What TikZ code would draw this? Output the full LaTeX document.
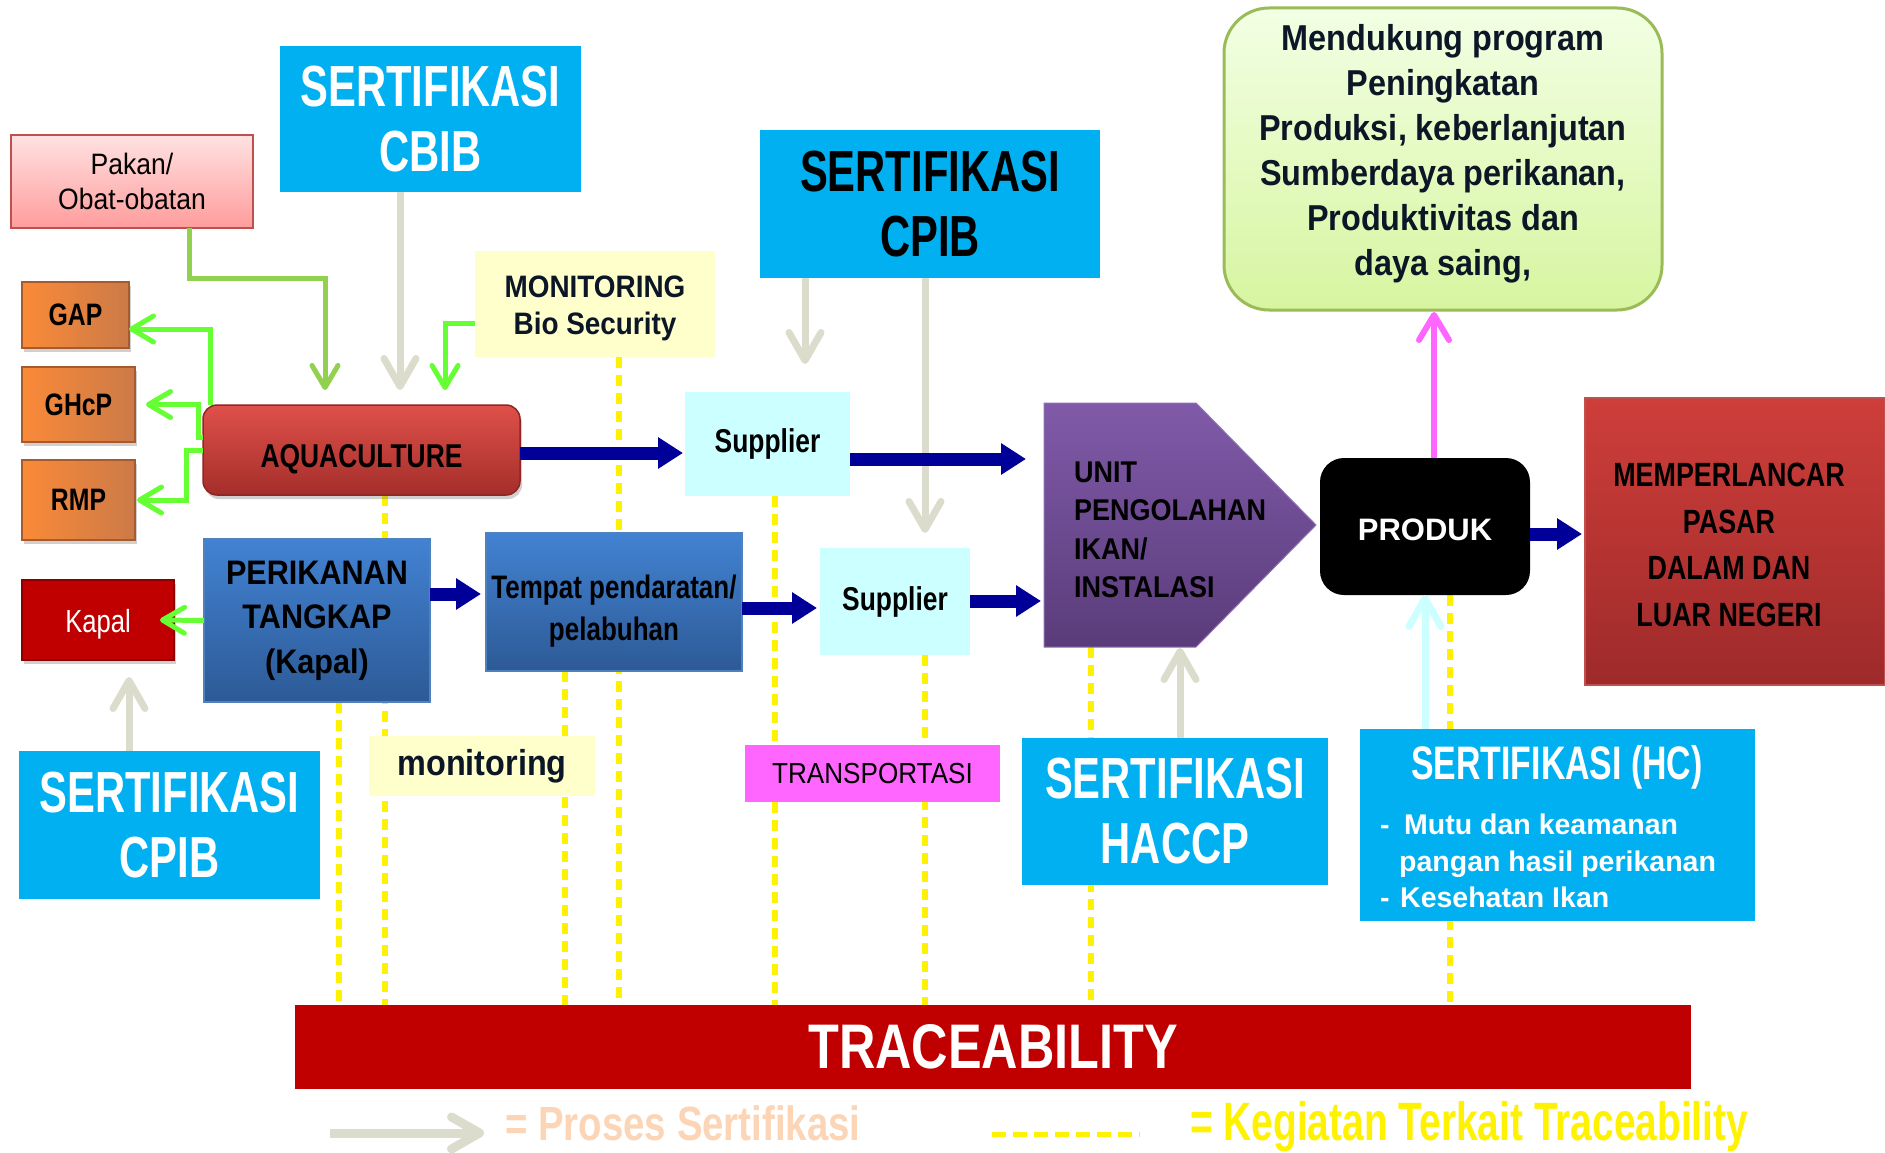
\documentclass[tikz,border=0pt]{standalone}
\usepackage{fontspec}
\setmainfont{Liberation Sans}
\newfontfamily\fA[FakeStretch=0.72]{Liberation Sans}
\newfontfamily\fB[FakeStretch=0.80]{Liberation Sans}
\newfontfamily\fC[FakeStretch=0.90]{Liberation Sans}
\usetikzlibrary{arrows.meta,calc,shadows}
\newcommand\fsz[2]{\fontsize{#1}{#2}\selectfont}
\definecolor{certc}{HTML}{00B0F0}
\definecolor{navyc}{HTML}{000099}
\definecolor{grc}{HTML}{DCDCCC}
\definecolor{gbright}{HTML}{66FF33}
\definecolor{gdull}{HTML}{92D050}
\definecolor{pinkc}{HTML}{FF66FF}
\definecolor{lcyan}{HTML}{CCFFFF}
\definecolor{lyel}{HTML}{FFFFCC}
\definecolor{kapred}{HTML}{C00000}
\definecolor{kapb}{HTML}{8B0000}
\definecolor{pk1}{HTML}{FFE2E2}
\definecolor{pk2}{HTML}{FF9C9C}
\definecolor{pkb}{HTML}{C0504D}
\definecolor{or1}{HTML}{FA8A38}
\definecolor{or2}{HTML}{CC7A48}
\definecolor{orb}{HTML}{A65B2E}
\definecolor{aq1}{HTML}{E0504A}
\definecolor{aq2}{HTML}{A42E2A}
\definecolor{aqb}{HTML}{8C2723}
\definecolor{bl1}{HTML}{4282D2}
\definecolor{bl2}{HTML}{2D5A96}
\definecolor{blb}{HTML}{4F81BD}
\definecolor{un1}{HTML}{805AA8}
\definecolor{un2}{HTML}{5A3C7A}
\definecolor{unb}{HTML}{8E6FB5}
\definecolor{ps1}{HTML}{CE3E3A}
\definecolor{ps2}{HTML}{9E2A2A}
\definecolor{psb}{HTML}{C0504D}
\definecolor{md1}{HTML}{F2FFE4}
\definecolor{md2}{HTML}{D7F5A0}
\definecolor{mdb}{HTML}{9BBB59}
\definecolor{dtext}{HTML}{0B1626}
\definecolor{peach}{HTML}{FBD5B5}
\pgfdeclarelayer{bottom}
\pgfdeclarelayer{lines}
\pgfsetlayers{bottom,lines,main}
\begin{document}
\begin{tikzpicture}[x=1pt,y=-1pt,
  box/.style={rectangle, inner sep=0pt, outer sep=0pt, align=center, text=black},
  cert/.style={box, fill=certc, text=white, font=\fA\bfseries\fsz{58}{65}},
  shd/.style={drop shadow={shadow xshift=2pt, shadow yshift=-4pt, opacity=0.3, fill=black!60}},
  obox/.style={box, left color=or1, right color=or2, draw=orb, line width=1.2pt, font=\fB\bfseries\fsz{31}{31}, shd},
  bbox/.style={box, top color=bl1, bottom color=bl2, draw=blb, line width=2pt},
  ybox/.style={box, fill=lyel, text=dtext},
  cbox/.style={box, fill=lcyan, font=\fB\bfseries\fsz{33}{33}},
  navyarr/.style={draw=navyc, line width=13pt, -{Triangle[length=25pt,width=30pt]}},
  grarr/.style={draw=grc, line width=7pt, -{Straight Barb[length=28pt,width=32pt,line cap=round,line join=round]}},
  garr/.style={draw=gbright, line width=5pt, -{Straight Barb[length=22pt,width=26pt,line cap=round,line join=round]}},
  garr2/.style={garr, draw=gdull},
  pkarr/.style={draw=pinkc, line width=6pt, -{Straight Barb[length=25pt,width=30pt,line cap=round,line join=round]}},
  cyarr/.style={grarr, draw=lcyan},
  yline/.style={draw=yellow, line width=6pt, dash pattern=on 11pt off 7pt}
]
\begin{pgfonlayer}{bottom}
\fill[white] (0,0) rectangle (1885,1153);
\end{pgfonlayer}
\useasboundingbox (0,0) rectangle (1885,1153);

% ---------- boxes ----------
\node[cert, minimum width=301pt, minimum height=146pt] (cbib) at (430.5,119) {SERTIFIKASI\\CBIB};
\node[box, minimum width=242pt, minimum height=93pt, top color=pk1, bottom color=pk2, draw=pkb, line width=2.5pt, font=\fC\fsz{29.5}{35}] (pakan) at (132,181.5) {Pakan/\\Obat-obatan};
\node[obox, minimum width=107pt, minimum height=66pt] (gap) at (75.5,315) {GAP};
\node[obox, minimum width=113pt, minimum height=75pt] (ghcp) at (78.5,404.5) {GHcP};
\node[obox, minimum width=113pt, minimum height=80pt] (rmp) at (78.5,500) {RMP};
\node[box, rounded corners=14pt, minimum width=317pt, minimum height=90pt, top color=aq1, bottom color=aq2, draw=aqb, line width=1.5pt, font=\fB\bfseries\fsz{33}{33}, text height=34pt, text depth=0pt, shd] (aqua) at (361.5,450) {AQUACULTURE};
\node[ybox, minimum width=240pt, minimum height=106pt] (monbio) at (595,304) {};
\node[box, text=dtext, font=\fC\bfseries\fsz{31}{37}] (monbiotext) at (595,308) {MONITORING\\Bio Security};
\node[cert, text=black, minimum width=340pt, minimum height=148pt] (cpibtop) at (930,204) {SERTIFIKASI\\CPIB};
\node[cbox, minimum width=165pt, minimum height=104pt] (sup1) at (767.5,444) {Supplier};
\node[cbox, minimum width=150pt, minimum height=107pt] (sup2) at (895,601.5) {Supplier};
\node[box, minimum width=272pt, minimum height=244pt] (unit) at (1180,525) {};
\shade[top color=un1, bottom color=un2, draw=unb, line width=1pt] (unit.north west) -- ($(unit.north east)+(-120,0)$) -- (unit.east) -- ($(unit.south east)+(-120,0)$) -- (unit.south west) -- cycle;
\node[anchor=west, inner sep=0pt, align=left, font=\fC\bfseries\fsz{30}{38.5}] (unittext) at (1074,530) {UNIT\\PENGOLAHAN\\IKAN/\\INSTALASI};
\node[box, rounded corners=24pt, fill=black, minimum width=210pt, minimum height=137pt, text=white, font=\bfseries\fsz{31}{31}, text height=28pt, text depth=0pt] (produk) at (1425,526.5) {PRODUK};
\node[box, minimum width=300pt, minimum height=287pt, top color=ps1, bottom color=ps2, draw=psb, line width=2pt] (pasar) at (1735,541.5) {};
\node[box, font=\fB\bfseries\fsz{33.6}{46.5}] (pasartext) at (1729,545) {MEMPERLANCAR\\PASAR\\DALAM DAN\\LUAR NEGERI};
\node[box, rounded corners=45pt, minimum width=438pt, minimum height=302pt, top color=md1, bottom color=md2, draw=mdb, line width=3pt] (mendukung) at (1443,159) {};
\node[box, text=dtext, font=\fC\bfseries\fsz{36}{45}] (mendtext) at (1443,154) {Mendukung program\\Peningkatan\\Produksi, keberlanjutan\\Sumberdaya perikanan,\\Produktivitas dan\\daya saing,};
\node[bbox, minimum width=226pt, minimum height=163pt, font=\fC\bfseries\fsz{34}{44.5}] (perikanan) at (317,620.5) {PERIKANAN\\TANGKAP\\(Kapal)};
\node[bbox, minimum width=256pt, minimum height=138pt] (tempat) at (614,602) {};
\node[box, font=\fB\bfseries\fsz{32.5}{42}] (tempattext) at (614,611) {Tempat pendaratan/\\pelabuhan};
\node[box, fill=kapred, draw=kapb, line width=2pt, minimum width=152pt, minimum height=80pt, text=white, font=\fB\fsz{32}{32}, text height=31pt, text depth=6.6pt, shd] (kapal) at (98,620) {Kapal};
\node[cert, minimum width=301pt, minimum height=148pt] (cpibbot) at (169.5,825) {SERTIFIKASI\\CPIB};
\node[ybox, minimum width=226pt, minimum height=60pt, font=\fC\bfseries\fsz{36}{36}] (monit) at (482,766) {monitoring};
\node[box, fill=pinkc, minimum width=255pt, minimum height=57pt, font=\fC\fsz{29}{29}] (transp) at (872.5,773.5) {TRANSPORTASI};
\node[cert, minimum width=306pt, minimum height=147pt] (haccp) at (1175,811.5) {SERTIFIKASI\\HACCP};
\node[box, fill=certc, minimum width=395pt, minimum height=192pt] (hc) at (1557.5,825) {};
\node[box, text=white, font=\fA\bfseries\fsz{47}{47}] (hctitle) at (1557,767) {SERTIFIKASI (HC)};
\node[anchor=west, inner sep=0pt, align=left, text=white, font=\bfseries\fsz{28.5}{36.5}] (hcitems) at (1380,861) {\makebox[24pt][l]{-}Mutu dan keamanan\\\hspace*{19pt}pangan hasil perikanan\\\makebox[20pt][l]{-}Kesehatan Ikan};
\node[box, fill=kapred, minimum width=1396pt, minimum height=84pt, text=white, font=\fB\bfseries\fsz{63}{63}] (trace) at (993,1047) {TRACEABILITY};

% ---------- traceability dashed lines ----------
\begin{pgfonlayer}{lines}
\coordinate (d1) at ($(perikanan.south)+(22,0)$);
\coordinate (d2) at ($(aqua.south)+(23.5,0)$);
\coordinate (d3) at ($(tempat.south)+(-49,0)$);
\coordinate (d4) at ($(monbio.south)+(24,0)$);
\coordinate (d5) at ($(sup1.south)+(7.5,0)$);
\coordinate (d6) at ($(sup2.south)+(30,0)$);
\coordinate (d7) at ($(unit.south)+(-89,0)$);
\coordinate (d8) at ($(produk.south)+(25,0)$);
\foreach \d in {d1,d2,d3,d4,d5,d6,d7,d8}
  \draw[yline] (\d) -- (\d |- trace.north);
\end{pgfonlayer}

% ---------- certification (grey) arrows ----------
\draw[grarr] ($(cbib.south)+(-30.5,0)$) -- ($(aqua.north)+(38.5,-15)$);
\draw[grarr] ($(cpibtop.south)+(-125,0)$) -- ($(sup1.north)+(37.5,-28)$);
\draw[grarr] ($(cpibtop.south)+(-5,0)$) -- ($(sup2.north)+(30,-15)$);
\draw[grarr] ($(haccp.north)+(5,0)$) -- ($(unit.south)+(0,1)$);
\draw[grarr] ($(cpibbot.north)+(-40.5,0)$) -- ($(kapal.south)+(31,17)$);
\draw[cyarr] ($(hc.north)+(-132.5,0)$) -- (produk.south);
\draw[pkarr] ($(produk.north)+(9,0)$) -- ($(mendukung.south)+(-9,2)$);

% ---------- green arrows ----------
\draw[garr2] ($(pakan.south)+(57,0)$) -- ++(0,50) -| ($(aqua.north)+(-36.5,-15)$);
\draw[garr] ($(monbio.west)+(0,19)$) -| ($(aqua.north)+(83.5,-15)$);
\draw[garr] ($(aqua.north west)+(7,0)$) |- ($(gap.east)+(0,14)$);
\draw[garr] ($(aqua.north west)+(0,32)$) -- ++(-5,0) |- ($(ghcp.east)+(11,0)$);
\draw[garr] (aqua.west) -- ++(-17,0) |- ($(rmp.east)+(2,0)$);
\draw[garr] (perikanan.west) -- ($(kapal.east)+(-14,0)$);

% ---------- flow (navy) arrows ----------
\draw[navyarr] ($(aqua.east)+(0,3)$) -- ($(sup1.west)+(-2,9)$);
\draw[navyarr] ($(sup1.east)+(0,15)$) -- ($(unit.west)+(-18,-66)$);
\draw[navyarr] ($(perikanan.east)+(0,-26.5)$) -- ($(tempat.west)+(-5,-8)$);
\draw[navyarr] ($(tempat.east)+(0,6)$) -- ($(sup2.west)+(-3,6.5)$);
\draw[navyarr] ($(sup2.east)+(0,-0.5)$) -- ($(unit.west)+(-3,76)$);
\draw[navyarr] ($(produk.east)+(0,7.5)$) -- ($(pasar.west)+(-3,-7.5)$);

% ---------- legend ----------
\coordinate (lgA) at (330,1133);
\coordinate (lgB) at (484,1133);
\draw[grarr, line width=9pt] (lgA) -- (lgB);
\node[anchor=base west, inner sep=0pt, text=peach, font=\fB\bfseries\fsz{48}{48}] (lgt1) at (505,1140) {= Proses Sertifikasi};
\coordinate (lgC) at (992,1134);
\coordinate (lgD) at (1140,1134);
\draw[yellow, line width=5pt, dash pattern=on 14pt off 7pt] (lgC) -- (lgD);
\node[anchor=base west, inner sep=0pt, text=yellow, font=\fA\bfseries\fsz{54}{54}] (lgt2) at (1190,1140) {= Kegiatan Terkait Traceability};
\end{tikzpicture}
\end{document}
